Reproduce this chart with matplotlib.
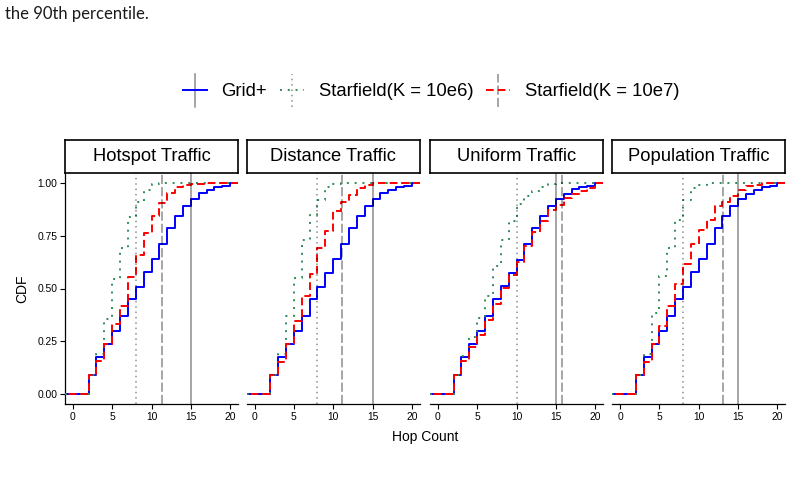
import matplotlib
matplotlib.use("Agg")
import matplotlib.pyplot as plt
from matplotlib.lines import Line2D
from matplotlib.legend_handler import HandlerBase

W, H, DPI = 793, 479, 100

# ---------------- data ----------------
panels = ["Hotspot Traffic", "Distance Traffic", "Uniform Traffic", "Population Traffic"]
series = ["Grid+", "Starfield(K = 10e6)", "Starfield(K = 10e7)"]
hops = list(range(2, 21))

hotspot_grid = [0.087, 0.173, 0.236, 0.296, 0.370, 0.452, 0.509, 0.578, 0.638, 0.713,
                0.787, 0.842, 0.893, 0.924, 0.953, 0.968, 0.981, 0.988, 1.0]
hotspot_k6 = [0.087, 0.189, 0.354, 0.545, 0.690, 0.840, 0.910, 0.970, 0.995, 1.0,
              1.0, 1.0, 1.0, 1.0, 1.0, 1.0, 1.0, 1.0, 1.0]
hotspot_k7 = [0.087, 0.157, 0.236, 0.330, 0.417, 0.556, 0.657, 0.764, 0.842, 0.905,
              0.953, 0.980, 0.990, 0.995, 0.998, 1.0, 1.0, 1.0, 1.0]

distance_grid = [0.087, 0.173, 0.236, 0.296, 0.370, 0.452, 0.509, 0.575, 0.638, 0.713,
                 0.787, 0.846, 0.893, 0.924, 0.953, 0.968, 0.981, 0.988, 1.0]
distance_k6 = [0.087, 0.189, 0.370, 0.551, 0.732, 0.850, 0.921, 0.984, 0.997, 1.0,
               1.0, 1.0, 1.0, 1.0, 1.0, 1.0, 1.0, 1.0, 1.0]
distance_k7 = [0.087, 0.153, 0.236, 0.346, 0.465, 0.567, 0.693, 0.772, 0.866, 0.913,
               0.945, 0.975, 0.990, 1.0, 1.0, 1.0, 1.0, 1.0, 1.0]

uniform_grid = [0.087, 0.173, 0.236, 0.296, 0.370, 0.452, 0.512, 0.575, 0.635, 0.713,
                0.787, 0.846, 0.893, 0.924, 0.950, 0.972, 0.980, 0.988, 1.0]
uniform_k6 = [0.087, 0.181, 0.268, 0.362, 0.465, 0.606, 0.732, 0.820, 0.902, 0.937,
              0.965, 0.984, 0.994, 1.0, 1.0, 1.0, 1.0, 1.0, 1.0]
uniform_k7 = [0.087, 0.157, 0.220, 0.280, 0.350, 0.425, 0.504, 0.562, 0.628, 0.700,
              0.770, 0.819, 0.874, 0.896, 0.930, 0.950, 0.965, 0.978, 1.0]

population_grid = [0.087, 0.173, 0.236, 0.296, 0.370, 0.452, 0.509, 0.578, 0.638, 0.713,
                   0.787, 0.842, 0.893, 0.924, 0.950, 0.970, 0.981, 0.988, 1.0]
population_k6 = [0.087, 0.190, 0.386, 0.559, 0.693, 0.827, 0.921, 0.976, 0.990, 1.0,
                 1.0, 1.0, 1.0, 1.0, 1.0, 1.0, 1.0, 1.0, 1.0]
population_k7 = [0.087, 0.153, 0.236, 0.323, 0.417, 0.520, 0.614, 0.709, 0.780, 0.827,
                 0.890, 0.910, 0.940, 0.970, 0.985, 0.993, 1.0, 1.0, 1.0]

# 90th percentile per panel: Grid+, K=10e6, K=10e7
p90_grid = [15, 15, 15, 15]
p90_k6 = [8, 8, 10, 8]
p90_k7 = [11.3, 11.07, 15.8, 13.03]

data = [
    [hotspot_grid, hotspot_k6, hotspot_k7],
    [distance_grid, distance_k6, distance_k7],
    [uniform_grid, uniform_k6, uniform_k7],
    [population_grid, population_k6, population_k7],
]
p90 = [p90_grid, p90_k6, p90_k7]

x_ticks = [0, 5, 10, 15, 20]
y_ticks = [0.0, 0.25, 0.5, 0.75, 1.0]
y_ticklabels = ["0.00", "0.25", "0.50", "0.75", "1.00"]

# ---------------- styles ----------------
colors = ["#0000FF", "#2E8B57", "#FF0000"]
styles = ["-", (0, (1, 3)), (0, (4, 2))]
vstyles = ["-", (0, (1, 2.5)), (0, (6, 2))]
LW = 1.4
VLW = 1.1
VCOL = "black"
VALPHA = 0.45
FONT = "Liberation Sans"
plt.rcParams["font.family"] = [FONT, "DejaVu Sans"]

fig = plt.figure(figsize=(W / DPI, H / DPI), dpi=DPI)
fig.patch.set_facecolor("white")


def fx(px):
    return px / W


def fy(py):
    return 1 - py / H


panel_left = [65, 246.7, 430, 612.3]
panel_w = 173
p_top, p_bot = 172.7, 404.3
strip_top = 140
xlim = (-1, 21)
ylim = (-0.05, 1.05)

for i, name in enumerate(panels):
    ax = fig.add_axes([fx(panel_left[i]), fy(p_bot), panel_w / W, (p_bot - p_top) / H])
    ax.set_xlim(*xlim)
    ax.set_ylim(*ylim)
    for j in range(3):
        vals = data[i][j]
        xs = [xlim[0] - 1] + hops + [xlim[1] + 1]
        ys = [0.0] + vals + [vals[-1]]
        ax.step(xs, ys, where="post", color=colors[j], lw=LW, ls=styles[j], zorder=2 + j)
    for j in range(3):
        ax.axvline(p90[j][i], color=VCOL, alpha=VALPHA, lw=VLW, ls=vstyles[j], zorder=6)
    for s in ["top", "right"]:
        ax.spines[s].set_visible(False)
    ax.spines["bottom"].set_linewidth(0.9)
    ax.spines["left"].set_linewidth(0.9)
    ax.set_xticks(x_ticks)
    ax.set_xticklabels([str(t) for t in x_ticks])
    ax.tick_params(axis="x", length=3.4, width=0.8, pad=2.5, labelsize=7.4, colors="black")
    if i == 0:
        ax.set_yticks(y_ticks)
        ax.set_yticklabels(y_ticklabels)
        ax.tick_params(axis="y", length=3.4, width=0.8, pad=2.2, labelsize=7.4)
    else:
        ax.spines["left"].set_visible(False)
        ax.set_yticks([])
    ax.patch.set_alpha(0)

    sax = fig.add_axes([fx(panel_left[i]), fy(p_top), panel_w / W, (p_top - strip_top) / H])
    sax.set_xticks([])
    sax.set_yticks([])
    for s in sax.spines.values():
        s.set_linewidth(1.2)
        s.set_color("black")
    sax.text(0.5, 0.5, name, ha="center", va="center", fontsize=13.2, transform=sax.transAxes)

fig.text(fx(22), fy((p_top + p_bot) / 2), "CDF", rotation=90, ha="center", va="center", fontsize=10)
fig.text(fx(425.5), fy(437), "Hop Count", ha="center", va="center", fontsize=10)

fig.text(fx(5), fy(14), "the 90th percentile.", ha="left", va="center", fontsize=12,
         family=["Lato", "DejaVu Sans"], color="#1a1a1a")


class KeyHandler(HandlerBase):
    def __init__(self, color, ls, vls):
        super().__init__()
        self.color, self.ls, self.vls = color, ls, vls

    def create_artists(self, legend, orig_handle, xdescent, ydescent, width, height, fontsize, trans):
        cy = height / 2 - ydescent
        cx = width / 2 - xdescent
        h = Line2D([-xdescent, width - xdescent], [cy, cy], color=self.color, lw=LW, ls=self.ls)
        half = 11.9
        v = Line2D([cx, cx], [cy - half, cy + half], color=VCOL, alpha=VALPHA, lw=VLW, ls=self.vls)
        h.set_transform(trans)
        v.set_transform(trans)
        return [v, h]


handles = [Line2D([], [], color=c) for c in colors]
hmap = {handles[j]: KeyHandler(colors[j], styles[j], vstyles[j]) for j in range(3)}
leg = fig.legend(handles, series, handler_map=hmap, loc="center", ncol=3,
                 bbox_to_anchor=(fx(431), fy(92)), frameon=False, fontsize=13.3,
                 handlelength=1.3, handletextpad=0.8, columnspacing=0.69, borderpad=0)

fig.savefig("out.png", dpi=DPI, facecolor="white")
